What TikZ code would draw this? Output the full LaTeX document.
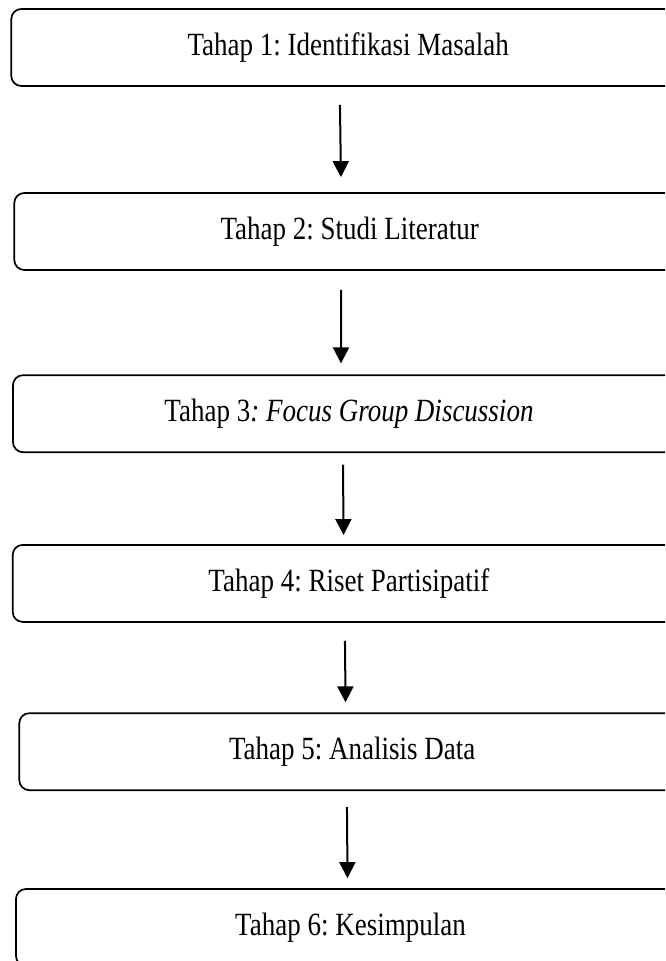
\documentclass[tikz,border=0pt]{standalone}
\usepackage{fontspec}
\setmainfont{Liberation Serif}
\usetikzlibrary{arrows.meta,calc}
\frenchspacing

% labels are set slightly taller than wide
\newcommand{\stagetext}[1]{\scalebox{1}[1.2]{#1}}

\tikzset{
  stage/.style={draw=black, line width=0.85pt, rounded corners=5pt,
    minimum height=38.5pt, inner sep=0pt, font=\fontsize{13.5pt}{16pt}\selectfont},
  flow/.style={draw=black, line width=1pt, -{Triangle[width=8pt,length=8pt]}}
}

\begin{document}
\begin{tikzpicture}[x=0.5pt,y=-0.5pt]
  \useasboundingbox (0,0) rectangle (665,961);
  \clip (0,0) rectangle (665,961);

  % stages, right edges run past the page
  \node[stage, minimum width=336.85pt] (s1) at (348.15,47.5)  {\stagetext{Tahap 1: Identifikasi Masalah}};
  \node[stage, minimum width=335.35pt] (s2) at (349.65,231.5) {\stagetext{Tahap 2: Studi Literatur}};
  \node[stage, minimum width=336pt]    (s3) at (349,413.7)    {\stagetext{Tahap 3\textit{: Focus Group Discussion}}};
  \node[stage, minimum width=336.15pt] (s4) at (348.85,583.4) {\stagetext{Tahap 4: Riset Partisipatif}};
  \node[stage, minimum width=332.85pt] (s5) at (352.15,751.7) {\stagetext{Tahap 5: Analisis Data}};
  \node[stage, minimum width=334.5pt]  (s6) at (350.5,927.5)  {\stagetext{Tahap 6: Kesimpulan}};

  % arrows between stages
  \draw[flow] ($(s1.south)+(-8.2,18)$)  -- ($(s2.north)+(-8.7,-15)$);
  \draw[flow] ($(s2.south)+(-8.6,19)$)  -- ($(s3.north)+(-8,-11)$);
  \draw[flow] ($(s3.south)+(-6,11.7)$)  -- ($(s4.north)+(-5.3,-9)$);
  \draw[flow] ($(s4.south)+(-3.9,18)$)  -- ($(s5.north)+(-6.6,-10)$);
  \draw[flow] ($(s5.south)+(-5.2,16)$)  -- ($(s6.north)+(-3,-10)$);
\end{tikzpicture}
\end{document}
